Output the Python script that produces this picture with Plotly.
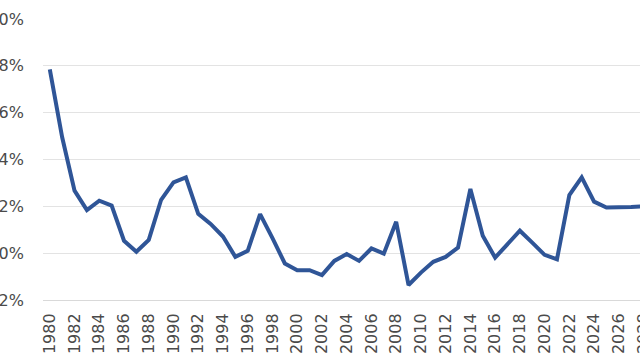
import plotly.graph_objects as go

years = list(range(1980, 2029))
values = [7.85, 4.95, 2.67, 1.84, 2.24, 2.03, 0.53, 0.06, 0.57, 2.28,
          3.02, 3.24, 1.68, 1.25, 0.71, -0.16, 0.10, 1.67, 0.64, -0.44,
          -0.73, -0.73, -0.94, -0.33, -0.04, -0.33, 0.20, -0.02, 1.34, -1.36,
          -0.83, -0.37, -0.16, 0.24, 2.74, 0.74, -0.19, 0.39, 0.96, 0.45,
          -0.07, -0.26, 2.48, 3.24, 2.20, 1.95, 1.94, 1.97, 2.00]
y_ticks = [-2, 0, 2, 4, 6, 8, 10]
y_labels = ["-2%", "0%", "2%", "4%", "6%", "8%", "10%"]

fig = go.Figure()
fig.add_trace(go.Scatter(x=years, y=values, mode="lines",
                         line=dict(color="#2F5597", width=4)))

font = dict(family="DejaVu Sans, Verdana, sans-serif", size=16, color="#4a4a4a")
fig.update_layout(
    width=650, height=360,
    margin=dict(l=43, r=0, t=19, b=60),
    plot_bgcolor="white", paper_bgcolor="white",
    showlegend=False,
    font=font,
    xaxis=dict(range=[1979.45, 2028.52], tick0=1980, dtick=2, tickangle=-90,
               showgrid=False, zeroline=False, showline=True, linecolor="#d9d9d9",
               linewidth=1, ticks="", ticklabelstandoff=6, automargin=False,
               ticklabeloverflow="allow", tickfont=font),
    yaxis=dict(range=[-2, 10], tickvals=y_ticks, ticktext=y_labels,
               showgrid=True, gridcolor="#e3e3e3", gridwidth=1, zeroline=False,
               showline=False, ticks="", ticklabelstandoff=18, automargin=False,
               ticklabeloverflow="allow", tickfont=font),
)
fig.write_html(
    "out.html",
    config={"displayModeBar": False},
    post_script="document.body.style.margin='0';document.body.style.overflow='hidden';",
)
